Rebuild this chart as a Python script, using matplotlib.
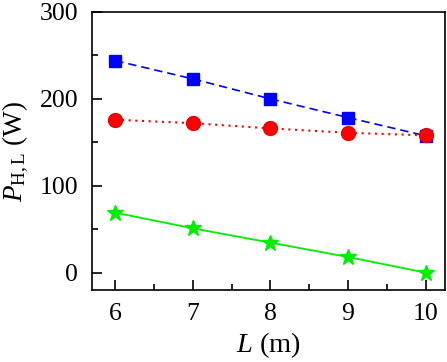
import matplotlib
matplotlib.use("Agg")
import matplotlib.pyplot as plt
from matplotlib.ticker import MultipleLocator

plt.rcParams['font.family'] = ['Liberation Serif', 'DejaVu Serif']
plt.rcParams['mathtext.fontset'] = 'custom'
plt.rcParams['mathtext.rm'] = 'Liberation Serif'
plt.rcParams['mathtext.it'] = 'Liberation Serif:italic'

L = [6, 7, 8, 9, 10]
blue_sq = [244, 223, 200, 178.5, 157.5]
red_circ = [176, 172, 166, 161, 158]
green_star = [69, 51, 34.5, 18, 0]

fig = plt.figure(figsize=(4.47, 3.62), dpi=100)
ax = fig.add_axes([92/447, 1-290/362, (445-92)/447, (290-12)/362])

ax.plot(L, blue_sq, color='#0000ff', ls=(0, (5, 3)), lw=1.2, marker='s', ms=8.5, mec='#0000ff', mfc='#0000ff')
ax.plot(L, red_circ, color='#ff0000', ls=(0, (1, 2.2)), lw=1.5, marker='o', ms=10, mec='#ee0000', mfc='#ff0000')
ax.plot(L, green_star, color='#00ee00', ls='-', lw=1.3, marker='*', ms=12, mec='#00ee00', mfc='#00ee00')

ax.set_xlim(5.7, 10.25)
ax.set_ylim(-20, 300)
ax.xaxis.set_major_locator(MultipleLocator(1))
ax.xaxis.set_minor_locator(MultipleLocator(0.5))
ax.yaxis.set_major_locator(MultipleLocator(100))
ax.yaxis.set_minor_locator(MultipleLocator(50))
ax.tick_params(which='both', direction='in', top=False, right=False, labelsize=18.5, width=1.2)
ax.tick_params(which='major', length=7)
ax.tick_params(which='minor', length=4)
ax.tick_params(axis='y', which='major', pad=10)
ax.tick_params(axis='x', which='major', pad=9)
for s in ax.spines.values():
    s.set_linewidth(1.2)

ax.set_xlabel(r'$L$ (m)', fontsize=20.5, labelpad=4)
ax.set_ylabel(r'$P_{\rm H,L}$ (W)', fontsize=19.5, labelpad=6)

fig.savefig('out.png', dpi=100)
